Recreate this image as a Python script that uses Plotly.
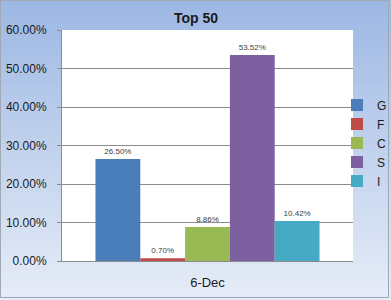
import plotly.graph_objects as go

categories = ["6-Dec"]
series_names = ["G", "F", "C", "S", "I"]
series_values = [0.2650, 0.0070, 0.0886, 0.5352, 0.1042]
series_colors = ["#4a7ebb", "#be4b48", "#98b954", "#7d60a0", "#46aac5"]
y_ticks = [0, 0.1, 0.2, 0.3, 0.4, 0.5, 0.6]
y_tick_labels = ["0.00%", "10.00%", "20.00%", "30.00%", "40.00%", "50.00%", "60.00%"]

W, H = 391, 300
L, R, T, B = 62, 38, 30, 39
PW, PH = W - L - R, H - T - B


def px(xp):
    return (xp - L) / PW


def py(yp):
    return (H - B - yp) / PH


fig = go.Figure()
for name, val, col in zip(series_names, series_values, series_colors):
    fig.add_trace(go.Bar(
        x=categories, y=[val], name=name, marker_color=col, marker_line_width=0,
        texttemplate="%{y:.2%}", textposition="outside",
        textfont=dict(size=8, color="#404040", family="Liberation Sans"),
        cliponaxis=False,
    ))

# gradient background bands
shapes = []
n = 50
top = (157, 184, 227)
bot = (230, 236, 247)
for i in range(n):
    t = i / (n - 1)
    c = tuple(int(round(top[k] + (bot[k] - top[k]) * t)) for k in range(3))
    y0p = i * H / n
    y1p = (i + 1) * H / n + 1
    shapes.append(dict(type="rect", xref="paper", yref="paper", layer="below",
                       x0=px(-5), x1=px(W + 5), y0=py(y1p), y1=py(y0p),
                       fillcolor="rgb(%d,%d,%d)" % c, line_width=0))
# plot area white
shapes.append(dict(type="rect", xref="paper", yref="paper", layer="below",
                   x0=0, x1=1, y0=0, y1=1, fillcolor="white", line_width=0))
# outer border
shapes.append(dict(type="rect", xref="paper", yref="paper", layer="above",
                   x0=px(0.5), x1=px(388.5), y0=py(297.5), y1=py(0.5),
                   line=dict(color="#a0a8b4", width=1), fillcolor="rgba(0,0,0,0)"))

fig.update_layout(
    width=W, height=H,
    margin=dict(l=L, r=R, t=T, b=B, autoexpand=False),
    paper_bgcolor="rgb(200,214,238)",
    plot_bgcolor="rgba(0,0,0,0)",
    barmode="group", bargap=0.23, bargroupgap=0,
    shapes=shapes,
    title=dict(text="<b>Top 50</b>", x=196 / W, xanchor="center", y=1 - 18 / H, yanchor="middle",
               font=dict(size=14, color="#1a1a1a", family="Liberation Sans")),
    legend=dict(x=px(337), xanchor="left", y=py(143), yanchor="middle", traceorder="normal",
                bgcolor="rgba(0,0,0,0)", font=dict(size=12, color="#1a1a1a", family="Liberation Sans"),
                itemwidth=30, tracegroupgap=7),
    showlegend=True,
    font=dict(family="Liberation Sans"),
)
fig.update_yaxes(range=[0, 0.6], tickvals=y_ticks, ticktext=y_tick_labels,
                 showgrid=True, gridcolor="#8c8c8c", gridwidth=1,
                 showline=True, linecolor="#8c8c8c", ticks="outside", ticklen=4, tickcolor="#8c8c8c",
                 ticklabelstandoff=8,
                 tickfont=dict(size=12, color="#1a1a1a"), zeroline=False)
fig.update_xaxes(showline=True, linecolor="#8c8c8c", ticks="", ticklabelstandoff=9,
                 tickfont=dict(size=13, color="#1a1a1a"))

fig.write_html("out.html")
